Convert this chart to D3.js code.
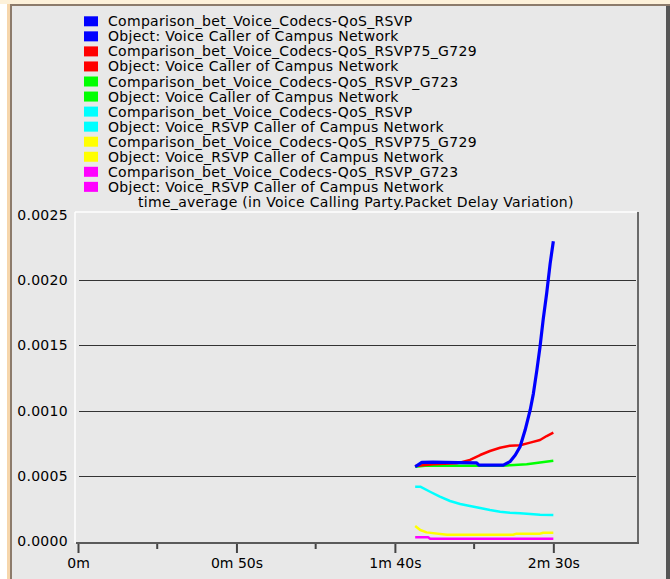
<!DOCTYPE html>
<html>
<head>
<meta charset="utf-8">
<script src="https://cdn.jsdelivr.net/npm/d3@7"></script>
<style>
  html, body { margin: 0; padding: 0; background: #ffffff; }
  svg { display: block; }
  text { font-family: "DejaVu Sans", sans-serif; fill: #000; }
</style>
</head>
<body>
<svg id="chart" width="670" height="579"></svg>
<script>
// Legend entries (two rows per series: scenario name, then object)
const legendLabels = [
  "Comparison_bet_Voice_Codecs-QoS_RSVP",
  "Object: Voice Caller of Campus Network",
  "Comparison_bet_Voice_Codecs-QoS_RSVP75_G729",
  "Object: Voice Caller of Campus Network",
  "Comparison_bet_Voice_Codecs-QoS_RSVP_G723",
  "Object: Voice Caller of Campus Network",
  "Comparison_bet_Voice_Codecs-QoS_RSVP",
  "Object: Voice_RSVP Caller of Campus Network",
  "Comparison_bet_Voice_Codecs-QoS_RSVP75_G729",
  "Object: Voice_RSVP Caller of Campus Network",
  "Comparison_bet_Voice_Codecs-QoS_RSVP_G723",
  "Object: Voice_RSVP Caller of Campus Network"
];
const statTitle = "time_average (in Voice Calling Party.Packet Delay Variation)";
const seriesColors = ["#0000ff", "#ff0000", "#00ff00", "#00ffff", "#ffff00", "#ff00ff"];

// Tick values (seconds / seconds of delay variation)
const xMajorTicks = [0, 50, 100, 150];
const xMajorLabels = ["0m", "0m 50s", "1m 40s", "2m 30s"];
const xMinorTicks = [25, 75, 125];
const yTicks = [0, 0.0005, 0.0010, 0.0015, 0.0020, 0.0025];
const yTickLabels = ["0.0000", "0.0005", "0.0010", "0.0015", "0.0020", "0.0025"];

// Time-average packet delay variation, [time (s), value (s)]
const voiceRsvp = [[106.4,0.000568],[108.5,0.000602],[112,0.000604],[120,0.000600],[125.8,0.000598],[126.5,0.000581],[134.2,0.000581],[136.3,0.000607],[138.0,0.000658],[139.5,0.000722],[141.1,0.00085],[142.7,0.001004],[143.7,0.00113],[144.8,0.00131],[145.8,0.00149],[146.8,0.0017],[147.9,0.0019],[149.0,0.00213],[150.0,0.0023]];
const voiceG729 = [[106.4,0.000574],[112.1,0.000587],[119.5,0.000594],[123.7,0.00062],[126.9,0.000658],[130.0,0.000689],[133.2,0.000714],[136.3,0.00073],[139.5,0.000733],[142.7,0.000753],[145.8,0.000773],[147.9,0.000804],[150.0,0.00083]];
const voiceG723 = [[106.4,0.000568],[109.5,0.000576],[134.1,0.000576],[136.3,0.00058],[141.6,0.000587],[145.8,0.0006],[150.0,0.000614]];
const rsvpCallerRsvp = [[106.4,0.000415],[108.0,0.000415],[111.1,0.000376],[114.2,0.000338],[117.4,0.000305],[120.6,0.000282],[123.7,0.000267],[126.9,0.000251],[130.0,0.000236],[133.2,0.000223],[136.3,0.000215],[139.5,0.00021],[142.7,0.000205],[145.8,0.0002],[150.0,0.000197]];
const rsvpCallerG729 = [[106.4,0.000113],[108.0,0.000082],[110.0,0.000064],[116.4,0.000046],[137.3,0.000046],[138.4,0.000054],[145.8,0.000054],[146.8,0.000061],[150.0,0.000061]];
const rsvpCallerG723 = [[106.4,0.000026],[110.5,0.000026],[111.1,0.000015],[150.0,0.000015]];

const svg = d3.select("#chart");

// Window frame
svg.append("rect").attr("x", 0).attr("y", 0).attr("width", 670).attr("height", 4).attr("fill", "#fdf1da");
svg.append("rect").attr("x", 7).attr("y", 4).attr("width", 3).attr("height", 575).attr("fill", "#f6d6ac");
svg.append("rect").attr("x", 10).attr("y", 4).attr("width", 660).attr("height", 575).attr("fill", "#8c7b6b");
svg.append("rect").attr("x", 12).attr("y", 6).attr("width", 654).attr("height", 573).attr("fill", "#e8e8e8");
svg.append("rect").attr("x", 666).attr("y", 6).attr("width", 4).attr("height", 573).attr("fill", "#555555");

// Plot geometry
const plot = { left: 75, top: 212, right: 637, bottom: 543 };
const x = d3.scaleLinear().domain([0, 176.4]).range([78, plot.right]);
const y = d3.scaleLinear().domain([0, 0.0025]).range([540.7, 215.2]);

// Plot frame: light top/left edge, dark right edge
svg.append("line").attr("x1", plot.left).attr("x2", plot.right).attr("y1", plot.top).attr("y2", plot.top)
  .attr("stroke", "#ffffff").attr("stroke-width", 1.5);
svg.append("line").attr("x1", plot.left).attr("x2", plot.left).attr("y1", plot.top).attr("y2", plot.bottom)
  .attr("stroke", "#ffffff").attr("stroke-width", 1.5);
svg.append("line").attr("x1", plot.right + 1).attr("x2", plot.right + 1).attr("y1", plot.top).attr("y2", plot.bottom + 1)
  .attr("stroke", "#6a6a6a").attr("stroke-width", 2);

// Horizontal grid lines
svg.append("g").selectAll("line").data(yTicks.filter(d => d > 0 && d < 0.0025)).join("line")
  .attr("x1", x(0) + 1).attr("x2", plot.right - 1)
  .attr("y1", d => Math.round(y(d)) + 0.5).attr("y2", d => Math.round(y(d)) + 0.5)
  .attr("stroke", "#333333").attr("stroke-width", 1);

// Y tick labels
svg.append("g").selectAll("text").data(yTicks).join("text")
  .attr("x", 68).attr("y", d => y(d)).attr("dy", "0.36em")
  .attr("text-anchor", "end").attr("font-size", 14).attr("letter-spacing", 0.3)
  .text((d, i) => yTickLabels[i]);

// X axis
const xAxis = svg.append("g").attr("transform", `translate(0,${plot.bottom})`);
xAxis.call(d3.axisBottom(x).tickValues(xMajorTicks).tickSize(10).tickPadding(5)
  .tickFormat((d, i) => xMajorLabels[i]));
xAxis.select(".domain").remove();
xAxis.selectAll(".tick line").attr("stroke", "#444444").attr("stroke-width", 2);
xAxis.selectAll(".tick text").attr("font-size", 14).attr("font-family", "DejaVu Sans").attr("fill", "#000");
svg.append("g").attr("transform", `translate(0,${plot.bottom})`)
  .selectAll("line").data(xMinorTicks).join("line")
  .attr("x1", d => x(d)).attr("x2", d => x(d)).attr("y1", 0).attr("y2", 6)
  .attr("stroke", "#444444").attr("stroke-width", 2);
svg.append("line").attr("x1", x(0) - 2).attr("x2", plot.right + 2).attr("y1", plot.bottom).attr("y2", plot.bottom)
  .attr("stroke", "#5a5a5a").attr("stroke-width", 2);

// Series lines, drawn bottom-most first
const seriesData = [rsvpCallerG723, rsvpCallerG729, rsvpCallerRsvp, voiceG723, voiceG729, voiceRsvp];
const seriesColorOrder = [seriesColors[5], seriesColors[4], seriesColors[3], seriesColors[2], seriesColors[1], seriesColors[0]];
const seriesWidths = [2.5, 2.5, 2.5, 2.5, 2.5, 3.2];
const line = d3.line().x(d => x(d[0])).y(d => y(d[1]));
svg.append("g").selectAll("path").data(seriesData).join("path")
  .attr("d", line).attr("fill", "none")
  .attr("stroke", (d, i) => seriesColorOrder[i])
  .attr("stroke-width", (d, i) => seriesWidths[i])
  .attr("stroke-linejoin", "round");

// Legend
const legend = svg.append("g");
const rows = legend.selectAll("g").data(legendLabels).join("g")
  .attr("transform", (d, i) => `translate(0,${21.3 + i * 15.05})`);
rows.append("rect").attr("x", 84).attr("y", -5).attr("width", 14).attr("height", 10)
  .attr("fill", (d, i) => seriesColors[Math.floor(i / 2)]);
rows.append("text").attr("x", 108).attr("dy", "0.36em")
  .attr("font-size", 14).attr("letter-spacing", 0.3).text(d => d);
legend.append("text").attr("x", 138).attr("y", 21.3 + 12 * 15.05).attr("dy", "0.36em")
  .attr("font-size", 14).attr("letter-spacing", 0.3).text(statTitle);
</script>
</body>
</html>
